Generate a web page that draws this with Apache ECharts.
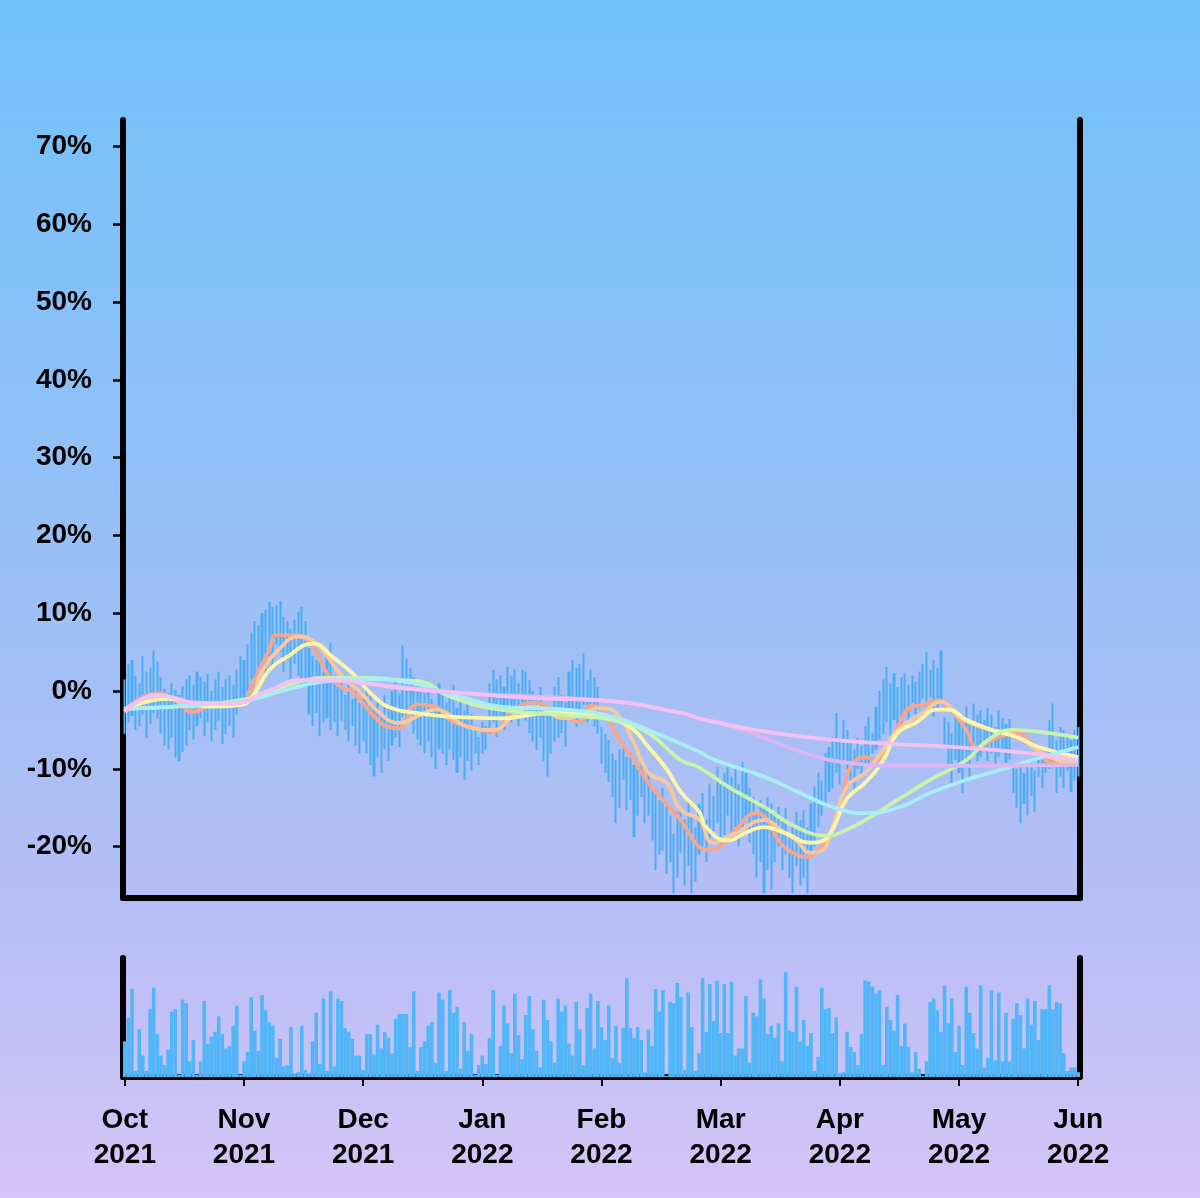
<!DOCTYPE html>
<html><head><meta charset="utf-8">
<script src="https://cdn.jsdelivr.net/npm/echarts@6/dist/echarts.min.js"></script>
<style>html,body{margin:0;padding:0;}#c{width:1200px;height:1198px;}</style>
</head><body><div id="c"></div>
<script>
// ---------- data ----------
const monthLabels = ['Oct\n2021','Nov\n2021','Dec\n2021','Jan\n2022','Feb\n2022','Mar\n2022','Apr\n2022','May\n2022','Jun\n2022'];
const perMonth = 33;
const yTickValues = [-20,-10,0,10,20,30,40,50,60,70];

const candleLow = [
 -5.5,-4.0,-3.2,-5.0,-4.5,-3.0,-6.0,-4.2,-2.8,-3.5,-5.5,-7.0,-7.5,-6.0,-8.5,-9.0,-7.8,-7.0,-5.0,-6.2,-4.5,-3.5,-5.8,-4.0,-6.5,-5.0,-3.8,-6.8,-5.5,-4.5,-6.0,-3.0,-1.5,
 -1.0,0.0,1.5,0.5,2.5,3.5,2.0,4.5,3.0,6.0,5.0,2.5,4.0,1.5,3.5,2.0,0.5,1.0,-3.0,-4.5,-2.8,-5.8,-4.0,-3.5,-5.0,-4.0,-5.8,-3.8,-5.0,-6.5,-4.5,-7.0,-8.0,
 -6.5,-8.0,-9.5,-11.0,-8.5,-10.5,-7.5,-9.0,-7.0,-6.0,-7.2,-3.3,-4.0,-2.5,-5.5,-6.2,-7.0,-8.0,-6.5,-8.5,-10.0,-7.5,-8.0,-9.5,-7.5,-8.8,-10.5,-8.5,-11.4,-9.0,-10.2,-8.0,-9.5,
 -8.0,-7.5,-5.5,-4.0,-5.9,-3.7,-5.0,-2.5,-4.0,-3.0,-4.5,-2.5,-3.8,-5.4,-6.5,-7.6,-6.0,-9.0,-11.0,-8.0,-6.5,-6.0,-5.4,-7.2,-3.5,-2.4,-4.6,-3.0,-1.8,-4.0,-2.5,-4.6,-5.5,
 -9.3,-10.5,-11.7,-13.6,-17.0,-15.0,-11.4,-15.3,-14.0,-18.8,-16.0,-13.6,-17.0,-16.0,-19.2,-23.0,-21.0,-20.5,-23.5,-22.0,-26.0,-24.0,-20.8,-25.0,-22.5,-26.0,-24.5,-21.0,-20.0,-22.0,-19.0,-18.0,-17.0,
 -20.0,-18.5,-16.0,-19.0,-17.5,-20.0,-18.0,-16.5,-19.5,-21.0,-24.0,-22.0,-26.0,-23.0,-25.5,-22.0,-20.0,-23.0,-21.0,-24.0,-26.0,-22.5,-25.0,-24.0,-26.0,-21.0,-20.0,-17.5,-16.0,-14.5,-13.0,-12.5,-10.5,
 -12.0,-9.3,-10.0,-11.5,-12.7,-10.0,-11.0,-9.3,-9.5,-8.0,-7.5,-6.3,-5.5,-4.0,-6.5,-3.7,-5.0,-4.5,-2.5,-3.8,-1.5,-3.0,-2.2,-1.0,-2.0,-0.8,-3.3,-2.5,-1.5,-7.2,-9.5,-11.8,-8.9,
 -10.5,-13.1,-9.5,-11.0,-8.0,-9.0,-8.5,-7.5,-9.0,-8.0,-9.5,-8.5,-7.5,-9.2,-8.8,-13.1,-15.0,-17.0,-14.5,-16.0,-13.5,-15.5,-11.0,-12.5,-10.5,-10.0,-9.5,-13.1,-11.0,-12.5,-10.2,-13.0,-11.5,-11.0
];
const candleHigh = [
 1.5,3.5,4.0,2.0,1.0,4.5,2.5,3.0,5.2,3.8,1.8,0.3,-0.2,1.0,0.2,-0.5,0.6,1.5,2.0,0.8,2.5,1.8,1.2,2.2,0.0,1.5,2.5,0.5,1.5,2.0,0.8,2.8,4.5,
 4.0,6.0,7.5,9.0,8.5,10.0,10.5,11.5,10.8,11.0,11.6,9.5,9.0,8.0,9.2,10.2,10.8,9.0,5.5,4.5,4.0,3.8,2.5,5.0,6.2,1.5,0.5,1.2,-0.5,0.8,-1.0,0.0,-1.5,
 -1.0,0.5,-0.5,-2.0,-1.5,-3.0,-0.5,-2.0,0.0,1.5,-0.3,5.9,4.2,3.0,1.8,0.9,0.5,-0.3,0.5,-1.0,-2.0,1.0,0.2,-1.5,-0.5,0.8,-2.2,-1.0,-2.5,-1.5,-3.0,-5.0,-5.9,
 -4.0,-4.5,1.0,2.7,1.5,2.0,0.5,3.1,2.0,2.8,1.0,2.7,2.5,1.4,0.0,-0.7,0.5,-2.0,-2.8,-2.2,0.5,1.8,-0.5,-1.5,2.5,4.0,3.0,3.5,4.8,1.4,2.8,1.8,0.5,
 -4.6,-5.5,-6.3,-8.0,-8.9,-7.5,-6.7,-8.5,-8.0,-9.5,-10.0,-9.1,-11.4,-10.0,-12.3,-13.0,-14.0,-12.5,-14.9,-16.0,-18.3,-15.5,-15.0,-16.5,-14.0,-16.0,-17.5,-14.5,-13.1,-16.6,-12.0,-13.5,-9.8,
 -11.4,-10.5,-9.8,-11.0,-10.0,-12.0,-9.1,-10.5,-12.5,-13.6,-15.7,-14.0,-15.0,-13.6,-14.5,-15.7,-14.9,-16.5,-15.0,-18.3,-17.0,-15.5,-16.6,-15.3,-17.5,-14.5,-12.3,-10.5,-11.5,-8.0,-7.2,-5.9,-2.8,
 -6.5,-3.7,-5.0,-6.7,-7.5,-6.0,-7.0,-4.5,-3.3,-5.4,-2.0,0.0,1.5,3.1,1.0,2.3,0.5,1.8,2.3,0.8,2.0,1.2,2.5,3.5,5.0,2.7,4.0,3.0,5.2,-3.3,-4.0,-5.4,-2.5,
 -3.5,-4.6,-2.0,-4.0,-1.6,-3.0,-2.5,-3.7,-2.2,-3.0,-4.6,-2.5,-3.5,-4.2,-3.6,-9.3,-10.0,-9.8,-10.5,-9.5,-9.3,-10.2,-7.2,-8.0,-8.9,-3.7,-1.6,-6.3,-4.6,-5.0,-5.5,-6.3,-5.0,-4.6
];
const volume = [
 30,50,74,5,40,18,5,57,75,36,18,10,23,55,57,2,65,62,13,31,2,13,64,28,34,38,51,36,24,26,43,60,2,
 13,21,67,39,22,69,56,46,43,16,32,9,10,42,3,4,43,6,3,30,54,11,66,5,72,9,66,64,41,38,32,18,18,
 6,36,36,19,44,24,38,33,20,49,53,53,53,25,72,5,25,30,43,46,12,71,65,5,73,54,59,7,46,22,36,2,10,
 18,11,33,73,2,26,60,45,20,70,35,15,52,68,40,22,8,65,48,30,12,66,55,60,28,18,63,40,10,58,70,24,64,
 42,31,60,16,43,12,41,83,41,33,42,31,4,40,26,74,55,73,1,63,62,79,67,6,71,42,5,20,83,38,78,47,81,
 37,78,37,80,18,24,24,68,12,54,51,82,66,36,43,33,45,13,88,39,38,76,30,48,26,37,5,17,75,57,58,37,50,
 3,4,38,25,21,10,36,81,80,76,70,73,10,59,48,39,69,26,45,25,4,21,7,1,13,63,66,56,38,77,45,66,21,
 43,10,76,54,37,24,77,8,16,73,14,71,13,54,13,49,62,52,24,66,44,64,31,57,57,77,57,63,62,20,5,8,8,4
];

// moving-average style lines: [day index, value %]
const lineSalmon = [[0,-2.5],[9,-0.3],[14,-1.2],[19,-2.7],[24,-1.8],[30,-1.6],[34,-0.8],[35,0.5],[40,5.3],[42,7.2],[47,7.2],[52,5.7],[56,2.3],[60,0.5],[63,-0.1],[70,-3.7],[73,-4.6],[76,-4.8],[81,-1.7],[86,-2.0],[90,-3.7],[96,-4.6],[102,-5.2],[107,-2.8],[113,-1.5],[121,-3.0],[126,-4.0],[129,-1.9],[132,-2.4],[137,-6.3],[141,-8.9],[145,-11.8],[149,-14.0],[154,-16.6],[158,-19.5],[161,-20.4],[165,-20.0],[169,-17.9],[175,-15.7],[178,-16.6],[181,-19.2],[185,-20.8],[189,-21.3],[192,-20.4],[196,-17.9],[199,-13.1],[201,-9.8],[205,-8.5],[208,-8.9],[212,-6.7],[214,-4.6],[218,-2.0],[221,-1.8],[225,-1.2],[228,-2.0],[233,-5.0],[236,-7.2],[242,-5.9],[247,-5.4],[251,-6.7],[255,-8.9],[258,-9.3],[264,-8.9]];
const linePeach = [[0,-2.3],[10,-0.6],[19,-2.0],[26,-1.9],[34,-1.2],[38,2.5],[43,5.5],[48,7.0],[52,6.5],[56,4.5],[60,2.0],[66,-0.5],[70,-2.6],[76,-4.1],[82,-3.0],[86,-2.4],[95,-4.6],[102,-5.0],[108,-3.0],[113,-2.0],[122,-3.5],[132,-2.2],[136,-2.8],[141,-6.7],[145,-10.5],[150,-11.8],[154,-15.3],[159,-16.5],[163,-19.5],[169,-18.3],[177,-16.6],[182,-18.0],[186,-19.2],[190,-20.8],[193,-20.5],[196,-17.5],[200,-12.3],[205,-10.5],[210,-7.6],[214,-5.0],[221,-2.8],[226,-1.4],[231,-3.3],[237,-4.6],[247,-5.9],[256,-8.5],[264,-9.3]];
const lineYellow = [[0,-2.4],[12,-1.0],[24,-2.0],[32,-1.8],[35,-1.0],[40,2.7],[45,4.4],[52,6.1],[58,4.2],[63,2.3],[69,-0.7],[74,-2.2],[82,-2.9],[90,-3.3],[104,-3.5],[118,-2.8],[132,-3.1],[136,-3.7],[141,-5.0],[145,-7.2],[150,-10.0],[154,-13.0],[159,-15.5],[161,-17.5],[167,-19.2],[172,-18.2],[177,-17.5],[183,-18.3],[190,-19.5],[193,-19.3],[196,-17.8],[200,-13.8],[205,-11.8],[210,-8.9],[214,-5.4],[219,-4.1],[225,-2.4],[228,-2.4],[233,-3.7],[240,-5.0],[247,-5.9],[253,-7.2],[264,-8.5]];
const lineGreen = [[0,-2.3],[20,-1.8],[34,-1.0],[42,0.2],[49,1.3],[55,1.7],[67,1.7],[76,1.4],[82,1.2],[90,-0.7],[104,-2.4],[122,-3.1],[136,-3.8],[145,-5.4],[154,-8.9],[159,-9.8],[167,-12.3],[177,-14.9],[186,-17.5],[195,-18.6],[200,-17.8],[205,-16.6],[214,-14.0],[223,-11.4],[233,-8.9],[239,-6.3],[246,-5.0],[256,-5.4],[264,-6.0]];
const lineCyan = [[0,-2.3],[20,-1.8],[34,-1.2],[45,0.2],[55,1.2],[67,1.5],[80,1.0],[87,0.0],[95,-1.0],[104,-2.0],[122,-2.4],[135,-3.3],[149,-5.8],[159,-7.8],[163,-8.8],[177,-11.0],[187,-13.1],[196,-14.9],[205,-15.7],[214,-15.0],[223,-13.1],[233,-11.4],[242,-10.2],[251,-8.9],[264,-7.2]];
const linePink = [[0,-2.7],[9,-0.5],[14,-0.9],[19,-1.5],[30,-1.6],[40,0.1],[49,1.4],[58,1.4],[67,1.0],[76,0.4],[95,-0.3],[113,-0.9],[132,-1.2],[154,-2.8],[159,-3.5],[172,-4.8],[190,-6.0],[209,-6.7],[233,-7.3],[251,-8.0],[264,-8.9]];
const lineLavender = [[0,-2.7],[9,-0.5],[19,-1.5],[30,-1.6],[40,0.1],[49,1.4],[67,1.0],[95,-0.3],[132,-1.2],[154,-2.8],[159,-3.5],[168,-4.5],[177,-6.0],[187,-7.8],[200,-9.2],[214,-9.6],[240,-9.6],[264,-9.5]];

// ---------- chart ----------
const FONT = "'Liberation Sans', Arial, Helvetica, sans-serif";
const categories = candleLow.map((_, i) => 'd' + i);
const candleData = candleLow.map((l, i) => [l, candleHigh[i], l, candleHigh[i]]);
const axisLine = { show: true, onZero: false, lineStyle: { color: '#000', width: 6, cap: 'round' } };
const blue = '#4aacf2';

function maSeries(data, color) {
  return { type: 'line', xAxisIndex: 0, yAxisIndex: 0, data: data, smooth: true, symbol: 'none',
    lineStyle: { color: color, width: 3.8 }, z: 3 };
}

const chart = echarts.init(document.getElementById('c'), null, { renderer: 'canvas' });
chart.setOption({
  animation: false,
  backgroundColor: { type: 'linear', x: 0, y: 0, x2: 0, y2: 1, colorStops: [
    { offset: 0, color: '#70c1fb' }, { offset: 0.5, color: '#9cc0f5' },
    { offset: 0.78, color: '#b8bef6' }, { offset: 1, color: '#d6c5f7' } ] },
  grid: [
    { left: 123, right: 120, top: 120, height: 778 },
    { left: 123, right: 120, top: 958, height: 119 }
  ],
  xAxis: [
    { type: 'category', gridIndex: 0, data: categories, boundaryGap: true, axisLine: axisLine,
      axisTick: { show: false }, axisLabel: { show: false }, splitLine: { show: false } },
    { type: 'category', gridIndex: 1, data: categories, boundaryGap: true, axisLine: axisLine,
      axisTick: { show: true, interval: perMonth - 1, alignWithLabel: true, length: 9, lineStyle: { color: '#000', width: 2 } },
      axisLabel: { interval: perMonth - 1, formatter: (v, i) => (i % perMonth === 0 ? monthLabels[i / perMonth] : ''),
        color: '#000', fontSize: 28, fontWeight: 'bold', fontFamily: FONT, lineHeight: 35, margin: 26 },
      splitLine: { show: false } }
  ],
  yAxis: [
    { type: 'value', gridIndex: 0, min: -26.6, max: 73.4, axisLine: axisLine,
      axisTick: { show: true, customValues: yTickValues, length: 10, lineStyle: { color: '#000', width: 2.5 } },
      axisLabel: { customValues: yTickValues, formatter: v => v + '%', color: '#000', fontSize: 28, fontWeight: 'bold', fontFamily: FONT, margin: 31 },
      splitLine: { show: false } },
    { type: 'value', gridIndex: 0, position: 'right', min: -26.6, max: 73.4, axisLine: axisLine,
      axisTick: { show: false }, axisLabel: { show: false }, splitLine: { show: false } },
    { type: 'value', gridIndex: 1, min: 0, max: 100, axisLine: axisLine,
      axisTick: { show: false }, axisLabel: { show: false }, splitLine: { show: false } },
    { type: 'value', gridIndex: 1, position: 'right', min: 0, max: 100, axisLine: axisLine,
      axisTick: { show: false }, axisLabel: { show: false }, splitLine: { show: false } }
  ],
  series: [
    { type: 'candlestick', xAxisIndex: 0, yAxisIndex: 0, data: candleData, barWidth: 2.6, large: false,
      itemStyle: { color: blue, color0: blue, borderColor: blue, borderColor0: blue, borderWidth: 0 }, z: 2 },
    maSeries(lineSalmon, '#f4a68f'),
    maSeries(linePeach, '#f8c89c'),
    maSeries(lineYellow, '#fcf6a6'),
    maSeries(lineGreen, '#c8f3ad'),
    maSeries(lineCyan, '#a8eef6'),
    maSeries(lineLavender, '#dab6f3'),
    maSeries(linePink, '#f4c1f3'),
    { type: 'bar', xAxisIndex: 1, yAxisIndex: 2, data: volume, barCategoryGap: '0%',
      itemStyle: { color: '#52b5f7' } }
  ]
});
</script></body></html>
